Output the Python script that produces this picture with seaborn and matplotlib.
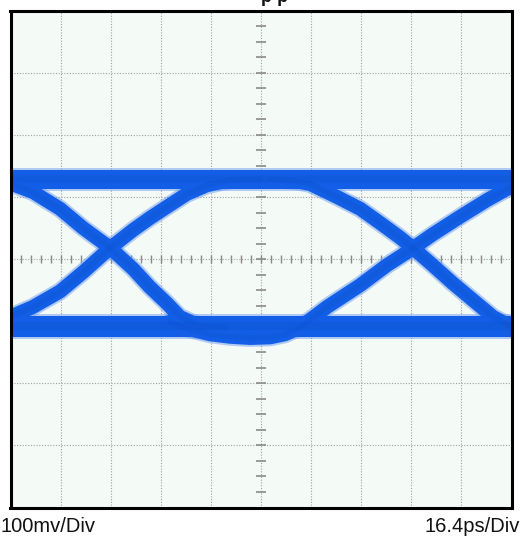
import numpy as np
import pandas as pd
import matplotlib
matplotlib.use("Agg")
import matplotlib.pyplot as plt
import seaborn as sns

# ---- data (x in time divisions of 16.4 ps, y in divisions of 100 mV) ----
rail_x = [-5.4, 5.4]
top_rail_y = [1.29, 1.29]
bottom_rail_y = [-1.08, -1.08]

fall_left_x = [-5.40, -5.01, -4.55, -4.01, -3.55, -3.01, -2.55, -2.22, -1.88, -1.62, -1.22, -0.72]
fall_left_y = [1.29, 1.22, 1.08, 0.81, 0.50, 0.18, -0.16, -0.45, -0.71, -0.93, -1.08, -1.10]

rise_left_x = [-5.40, -5.01, -4.55, -4.01, -3.55, -3.01, -2.55, -2.22, -1.88, -1.48, -1.08, -0.62, -0.02]
rise_left_y = [-1.05, -0.93, -0.77, -0.52, -0.21, 0.18, 0.47, 0.66, 0.84, 1.05, 1.19, 1.27, 1.29]

dip_rise_x = [-1.82, -1.42, -1.02, -0.62, -0.22, 0.18, 0.48, 0.78, 1.32, 1.98, 2.51, 2.97, 3.43, 3.97, 4.51, 4.91, 5.40]
dip_rise_y = [-1.01, -1.13, -1.21, -1.25, -1.27, -1.26, -1.21, -1.10, -0.77, -0.42, -0.10, 0.14, 0.40, 0.68, 0.95, 1.13, 1.24]

fall_right_x = [0.18, 0.68, 0.98, 1.52, 1.98, 2.38, 2.77, 3.03, 3.43, 3.83, 4.23, 4.63, 4.93, 5.40]
fall_right_y = [1.29, 1.26, 1.21, 1.00, 0.81, 0.58, 0.35, 0.18, -0.10, -0.39, -0.66, -0.93, -1.06, -1.19]

traces = [
    (rail_x, top_rail_y, 19),
    (rail_x, bottom_rail_y, 21),
    (fall_left_x, fall_left_y, 14),
    (rise_left_x, rise_left_y, 14),
    (dip_rise_x, dip_rise_y, 14),
    (fall_right_x, fall_right_y, 14),
]

volt_label = "100mv/Div"
time_label = "16.4ps/Div"
top_label = "p-p"

# ---- figure ----
sns.set_theme(style="white")
plt.rcParams["font.family"] = ["Liberation Sans", "DejaVu Sans"]

fig = plt.figure(figsize=(5.2, 5.37), dpi=100)
ax = fig.add_axes([10.5 / 520, 29.5 / 537, 501 / 520, 496.8 / 537])
ax.set_facecolor("#f4faf6")
ax.set_xlim(-5, 5)
ax.set_ylim(-4, 4)
ax.set_xticks(range(-5, 6))
ax.set_yticks(range(-4, 5))
ax.tick_params(length=0, labelbottom=False, labelleft=False)
ax.set_axisbelow(True)
ax.grid(True, color="#a0a0a0", linestyle=(0, (1, 1.5)), linewidth=0.8)

# centre cross minor ticks
hx = np.arange(-5, 5.001, 0.2)
ax.plot(hx, np.zeros_like(hx), linestyle="none", marker="|", ms=6,
        mew=1.0, color="#8a8a8a", zorder=1)
vy = np.arange(-4, 4.001, 0.25)
ax.plot(np.zeros_like(vy), vy, linestyle="none", marker="_", ms=7,
        mew=1.2, color="#8a8a8a", zorder=1)

px2pt = 72 / 100
for xs, ys, w in traces:
    df = pd.DataFrame({"x": xs, "y": ys})
    sns.lineplot(data=df, x="x", y="y", sort=False, ax=ax, color="#6f9cf2",
                 linewidth=(w + 4) * px2pt, alpha=0.5, zorder=2,
                 solid_capstyle="round", solid_joinstyle="round")
for xs, ys, w in traces:
    df = pd.DataFrame({"x": xs, "y": ys})
    sns.lineplot(data=df, x="x", y="y", sort=False, ax=ax, color="#125ee6",
                 linewidth=w * px2pt, zorder=3,
                 solid_capstyle="round", solid_joinstyle="round")
for xs, ys, w in traces:
    df = pd.DataFrame({"x": xs, "y": ys})
    sns.lineplot(data=df, x="x", y="y", sort=False, ax=ax, color="#0b4fc8",
                 linewidth=w * 0.4 * px2pt, alpha=0.25, zorder=4,
                 solid_capstyle="round", solid_joinstyle="round")

ax.set_xlabel("")
ax.set_ylabel("")
for s in ax.spines.values():
    s.set_visible(True)
    s.set_color("black")
    s.set_linewidth(2.2)
    s.set_zorder(5)

fig.text(0.0, 4.5 / 537, volt_label, ha="left", va="baseline", fontsize=14.5, color="#111111")
fig.text(519.5 / 520, 4.5 / 537, time_label, ha="right", va="baseline", fontsize=14.5, color="#111111")
fig.text(275 / 520, 1 - 1.5 / 537, top_label, ha="center", va="baseline",
         fontsize=13, fontweight="bold", color="#111111")

fig.savefig("out.png", dpi=100)
